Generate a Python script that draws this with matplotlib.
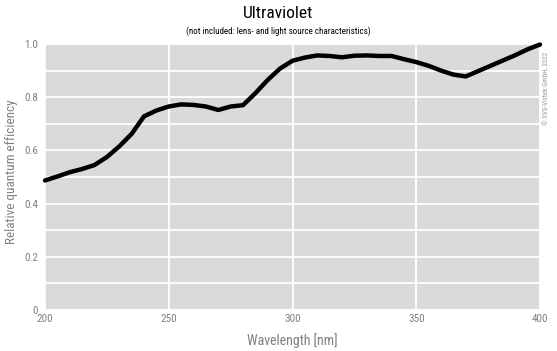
import numpy as np
import matplotlib.pyplot as plt

# Wellenlänge [nm] und relative Quanteneffizienz
wavelength = [200, 205, 210, 215, 220, 225, 230, 235, 240, 245,
              250, 255, 260, 265, 270, 275, 280, 285, 290, 295,
              300, 305, 310, 315, 320, 325, 330, 335, 340, 345,
              350, 355, 360, 365, 370, 375, 380, 385, 390, 395, 400]
qe = [0.487, 0.502, 0.518, 0.530, 0.545, 0.575, 0.615, 0.662, 0.728, 0.750,
      0.765, 0.773, 0.771, 0.765, 0.752, 0.765, 0.770, 0.815, 0.865, 0.908,
      0.937, 0.949, 0.957, 0.955, 0.950, 0.956, 0.957, 0.955, 0.955, 0.943,
      0.932, 0.918, 0.900, 0.885, 0.878, 0.898, 0.918, 0.938, 0.958, 0.980, 0.998]

x_ticks = [200, 250, 300, 350, 400]
y_ticks = [0, 0.2, 0.4, 0.6, 0.8, 1.0]
y_labels = ['0', '0.2', '0.4', '0.6', '0.8', '1.0']

plt.rcParams['font.family'] = ['Roboto Condensed', 'Liberation Sans Narrow', 'DejaVu Sans']

fig = plt.figure(figsize=(5.57, 3.51), dpi=100)
ax = fig.add_axes([45 / 557, 41 / 351, 495 / 557, 266 / 351])

ax.set_facecolor('#d9dadc')
ax.plot(wavelength, qe, color='black', linewidth=3.2, solid_joinstyle='round',
        solid_capstyle='round', clip_on=False, zorder=3)

ax.set_xlim(200, 400)
ax.set_ylim(0, 1.0)
ax.set_xticks(x_ticks)
ax.set_yticks(y_ticks)
ax.set_yticklabels(y_labels)
ax.set_yticks(np.arange(0.1, 1.0, 0.2), minor=True)
ax.grid(True, which='both', color='white', linewidth=1.3)
ax.set_axisbelow(True)
ax.tick_params(which='both', length=0, labelsize=8, labelcolor='#808080')
ax.tick_params(axis='x', pad=3)
ax.tick_params(axis='y', pad=5)
for s in ax.spines.values():
    s.set_visible(False)

ax.set_xlabel('Wavelength [nm]', fontsize=10, color='#808080')
ax.set_ylabel('Relative quantum efficiency', fontsize=9.5, color='#808080', va='center')
ax.xaxis.set_label_coords(0.5, -0.087)
ax.yaxis.set_label_coords(-0.067, 0.52)

fig.text(0.5, 1 - 14 / 351, 'Ultraviolet', ha='center', va='center', fontsize=12.5, color='black')
fig.text(0.5, 1 - 31 / 351, '(not included: lens- and light source characteristics)',
         ha='center', va='center', fontsize=6.5, color='black')
fig.text(547 / 557, 1 - 88 / 351, '\u00a9 SVS-Vistek GmbH, 2022', rotation=90,
         ha='center', va='center', fontsize=5, color='#999999')

fig.savefig('out.png', dpi=100)
